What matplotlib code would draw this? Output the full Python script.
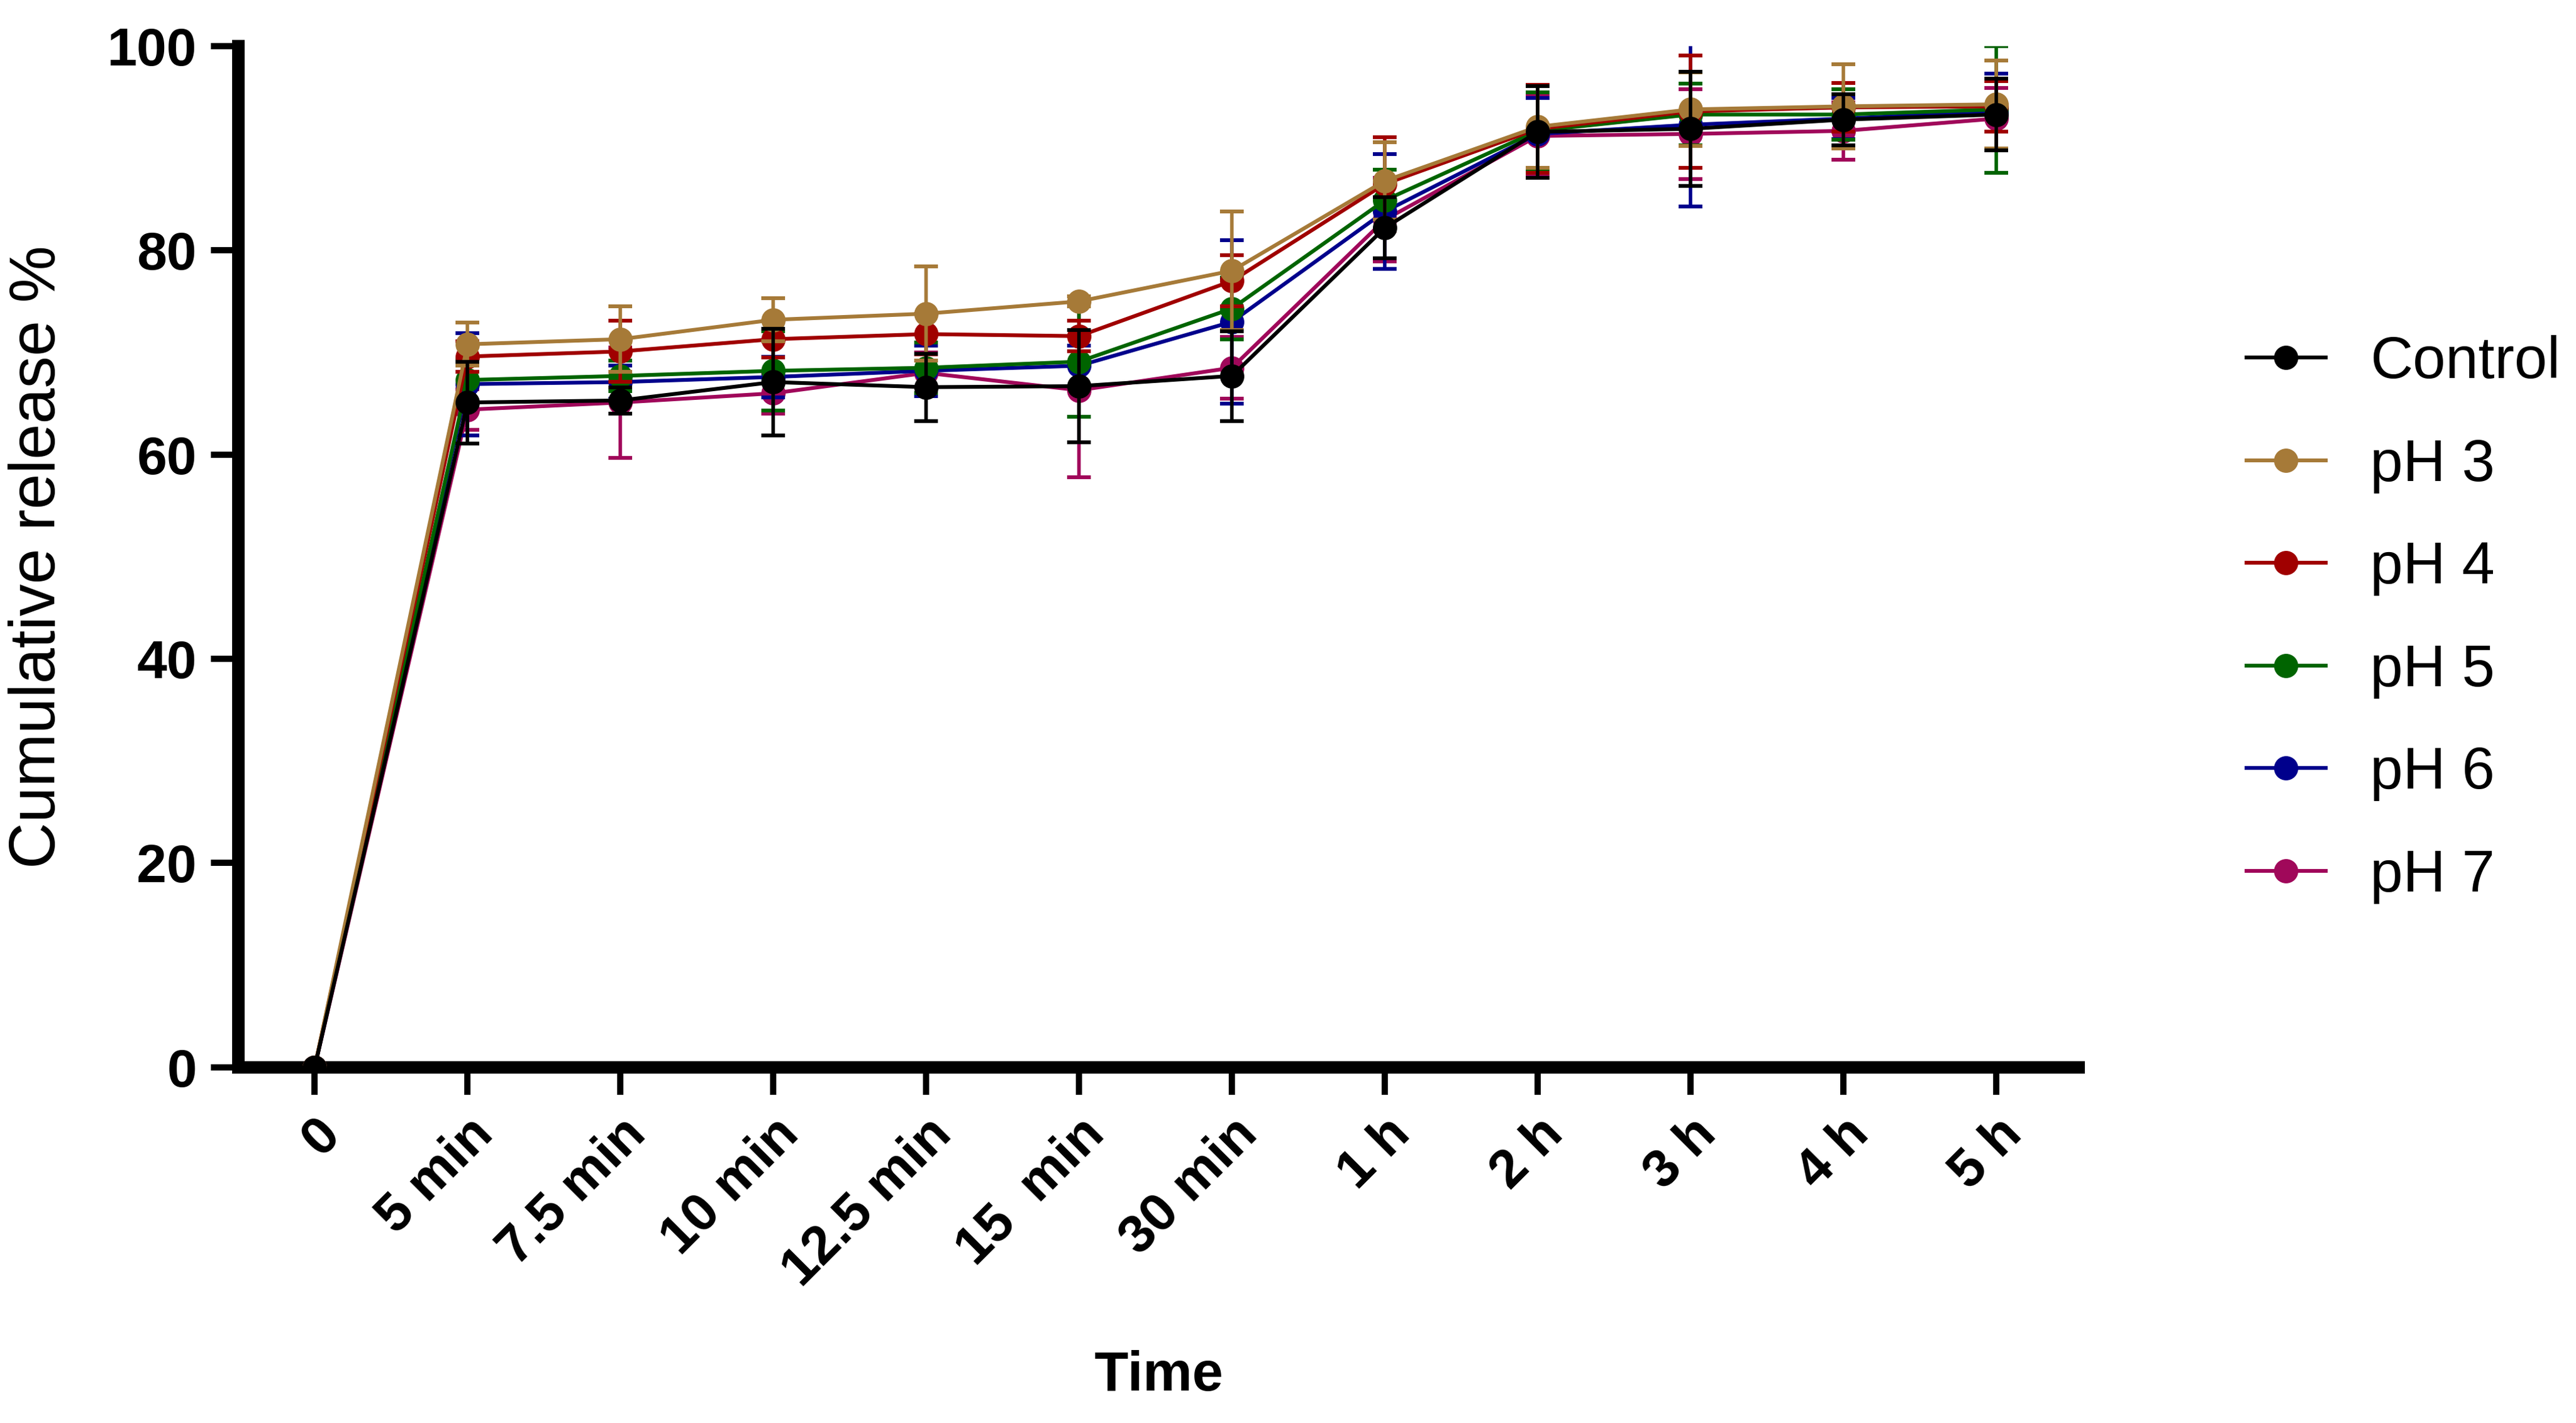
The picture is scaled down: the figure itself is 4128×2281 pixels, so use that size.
import matplotlib.pyplot as plt
from matplotlib.lines import Line2D

# time points (categorical x axis)
time_labels = ["0", "5 min", "7.5 min", "10 min", "12.5 min", "15  min", "30 min",
               "1 h", "2 h", "3 h", "4 h", "5 h"]

series_names = ["Control", "pH 3", "pH 4", "pH 5", "pH 6", "pH 7"]
series_colors = ["#000000", "#A67A38", "#A00000", "#006400", "#00008C", "#A0085A"]

control = [0, 65.1, 65.3, 67.1, 66.6, 66.7, 67.7, 82.2, 91.6, 91.9, 92.8, 93.3]
control_err = [0, 4.0, 1.3, 5.2, 3.3, 5.5, 4.4, 3.0, 4.5, 5.6, 2.5, 3.5]

ph3 = [0, 70.8, 71.3, 73.2, 73.8, 75.0, 78.0, 86.8, 92.1, 93.8, 94.1, 94.3]
ph3_err = [0, 2.1, 3.2, 2.1, 4.6, 0.5, 5.8, 3.8, 4.0, 3.6, 4.1, 4.3]

ph4 = [0, 69.6, 70.1, 71.3, 71.8, 71.6, 77.0, 86.5, 91.9, 93.6, 94.0, 94.1]
ph4_err = [0, 1.5, 3.0, 1.8, 2.0, 1.5, 2.5, 4.6, 4.3, 5.5, 2.4, 2.5]

ph5 = [0, 67.3, 67.7, 68.2, 68.5, 69.1, 74.3, 84.9, 91.7, 93.3, 93.3, 93.8]
ph5_err = [0, 2.0, 1.5, 3.9, 2.5, 5.4, 3.0, 3.0, 3.8, 3.0, 2.5, 6.2]

ph6 = [0, 66.9, 67.1, 67.6, 68.2, 68.7, 73.0, 83.8, 91.4, 92.3, 92.9, 93.6]
ph6_err = [0, 5.0, 1.6, 2.0, 2.5, 2.0, 8.0, 5.6, 3.5, 8.0, 2.0, 3.7]

ph7 = [0, 64.4, 65.1, 66.0, 68.0, 66.3, 68.5, 83.0, 91.2, 91.4, 91.7, 92.9]
ph7_err = [0, 2.0, 5.4, 2.0, 2.0, 8.5, 3.0, 4.1, 4.0, 4.4, 2.8, 3.0]

values = [control, ph3, ph4, ph5, ph6, ph7]
errors = [control_err, ph3_err, ph4_err, ph5_err, ph6_err, ph7_err]

plt.rcParams['font.family'] = ['Liberation Sans', 'DejaVu Sans']

fig = plt.figure(figsize=(20.64, 11.405), dpi=200)
ax = fig.add_axes([0.0925, 0.25, 0.7145, 0.7176])

x = list(range(len(time_labels)))
# draw Control last so it sits on top
for i in reversed(range(len(series_names))):
    ax.errorbar(x, values[i], yerr=errors[i], color=series_colors[i],
                marker='o', markersize=13, linewidth=2.2, elinewidth=2.0,
                capsize=7, capthick=2.2, zorder=3 + (6 - i))

ax.set_xlim(-0.5, 11.54)
ax.set_ylim(0, 100)
ax.set_yticks([0, 20, 40, 60, 80, 100])
ax.set_xticks(x)
ax.set_xticklabels(time_labels, rotation=45, ha='right', rotation_mode='anchor',
                   fontsize=31, fontweight='bold')
for lab in ax.get_yticklabels():
    lab.set_fontsize(31)
    lab.set_fontweight('bold')

for s in ['top', 'right']:
    ax.spines[s].set_visible(False)
for s in ['left', 'bottom']:
    ax.spines[s].set_linewidth(7.2)
ax.tick_params(axis='both', direction='out', length=16, width=3.6, pad=8)

ax.set_ylabel("Cumulative release %", fontsize=37)
ax.yaxis.set_label_coords(-0.092, 0.5)
ax.set_xlabel("Time", fontsize=32, fontweight='bold', va='top')
ax.xaxis.set_label_coords(0.5, -0.277)

leg_handles = [Line2D([], [], color=c, marker='o', markersize=13, linewidth=2.2)
               for c in series_colors]
ax.legend(leg_handles, series_names, loc='center left', bbox_to_anchor=(1.091, 0.4385),
          frameon=False, fontsize=34, handlelength=1.35, handletextpad=0.75,
          labelspacing=0.8, borderpad=0, borderaxespad=0)

fig.savefig("out.png", dpi=200)
